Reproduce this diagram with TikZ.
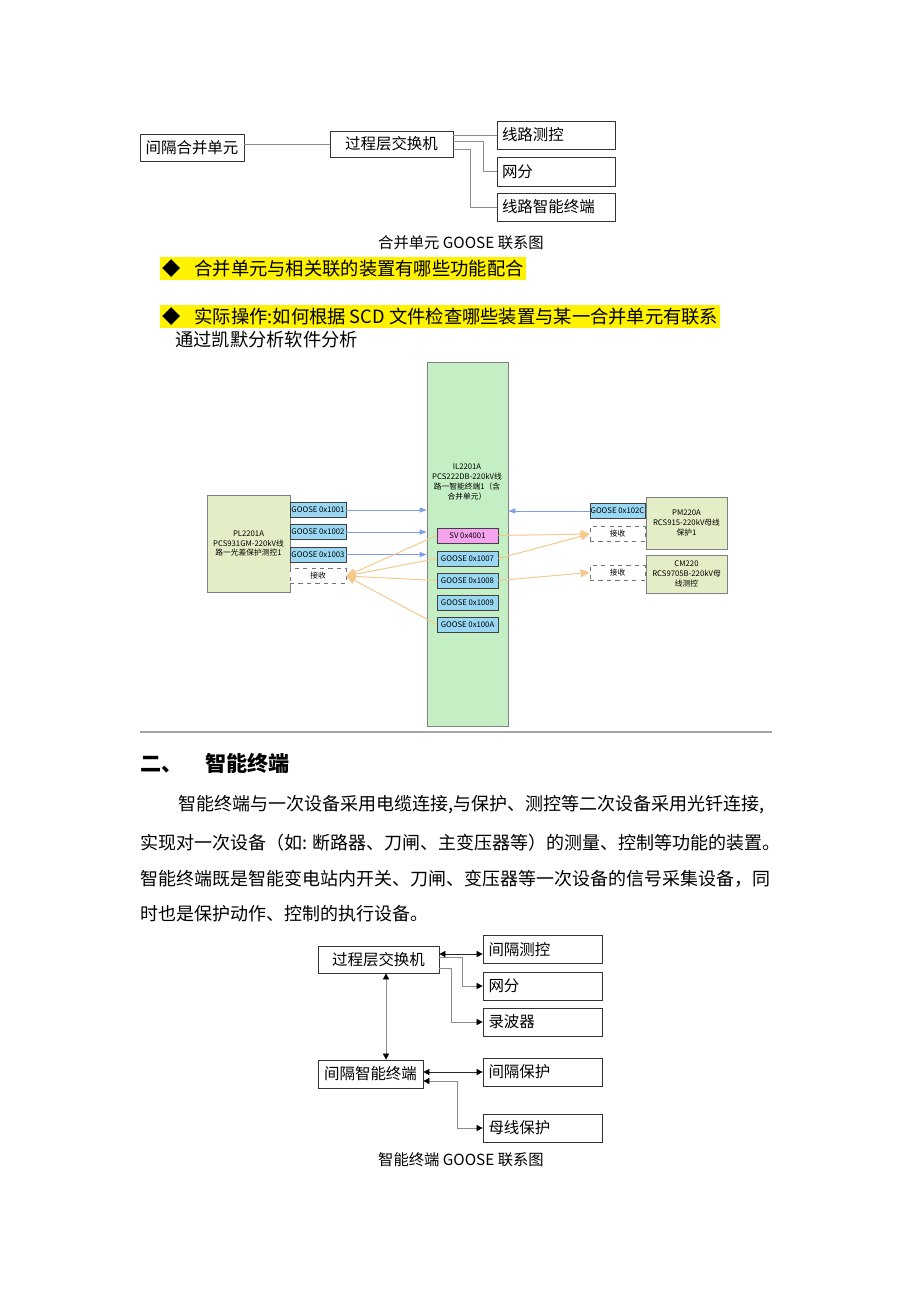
\documentclass[tikz,border=0pt]{standalone}
\usepackage{fontspec}
\setmainfont{Noto Sans CJK SC}
\usetikzlibrary{arrows.meta}
\newdimen\px \px=0.025cm
\newcommand\lft[1]{\makebox[108\px][l]{#1}}
\definecolor{ilgreen}{HTML}{C4EFC4}
\definecolor{devgreen}{HTML}{E4EEC6}
\definecolor{goose}{HTML}{9AD7F3}
\definecolor{svpink}{HTML}{F5A3EE}
\definecolor{flowblue}{HTML}{7E9FE8}
\definecolor{floworange}{HTML}{F5C88C}

\begin{document}
\begin{tikzpicture}[x=0.025cm,y=-0.025cm,
  box/.style={draw=black!80,line width=0.5pt,minimum height=27\px,inner sep=0pt,
    font=\fontsize{11}{13}\selectfont},
  link/.style={draw=black!45,line width=0.5pt},
  dlink/.style={draw=black!85,line width=0.5pt},
  tip/.style={-{Triangle[length=4.3pt,width=4.3pt,color=black]}},
  tips/.style={{Triangle[length=4.3pt,width=4.3pt,color=black]}-{Triangle[length=4.3pt,width=4.3pt,color=black]}},
  figcap/.style={font=\fontsize{10.9}{12}\selectfont},
  hl/.style={fill=yellow,anchor=west,inner xsep=2\px,inner ysep=0pt,minimum height=23\px,
    font=\fontsize{13}{15}\selectfont},
  txt/.style={anchor=west,inner sep=0pt,font=\fontsize{12.8}{15}\selectfont},
  dev/.style={draw=black!50,fill=devgreen,line width=0.5pt,align=center,inner sep=0pt,
    font=\fontsize{5.5}{7}\selectfont},
  tag/.style={draw=black!75,fill=goose,line width=0.5pt,minimum width=56\px,minimum height=15\px,
    inner sep=0pt,font=\fontsize{5.5}{7}\selectfont},
  rcv/.style={tag,fill=white,draw=black!55,dashed},
  goo/.style={draw=flowblue,line width=0.7pt,-{Triangle[length=5pt,width=3.6pt]}},
  sub/.style={draw=floworange,line width=0.7pt,-{Triangle[length=6.4pt,width=5.7pt]}}
]
\fill[white] (0,0) rectangle (920,1302);
\useasboundingbox (0,0) rectangle (920,1302);

% merging unit goose
\node[box,minimum width=104\px] (mu) at (192,147.5) {间隔合并单元};
\node[box,minimum width=123\px,minimum height=26\px] (sw) at (391.5,144) {过程层交换机};
\node[box,minimum width=118\px,minimum height=28\px] (lc) at (556,135) {\lft{线路测控}};
\node[box,minimum width=118\px,minimum height=29\px] (nf) at (556,171.5) {\lft{网分}};
\node[box,minimum width=118\px,minimum height=28\px] (lt) at (556,207) {\lft{线路智能终端}};
\draw[link] (sw.west) -- (sw.west -| mu.east);
\draw[link] (sw.east |- lc.west) -- (lc.west);
\draw[link] ([yshift=2.5\px]sw.east) -- ++(30,0) |- (nf.west);
\draw[link] ([yshift=-5\px]sw.east) -- ++(17,0) |- (lt.west);
\node[figcap] (cap1) at (461,243) {合并单元 GOOSE 联系图};

\node[hl] (q1) at (160,268.5) {◆\hspace{14\px}合并单元与相关联的装置有哪些功能配合};
\node[hl] (q2) at (160,316.5) {◆\hspace{14\px}实际操作:如何根据 SCD 文件检查哪些装置与某一合并单元有联系};
\node[txt,font=\fontsize{13}{15}\selectfont] (t0) at (175,340) {通过凯默分析软件分析};

% kemai screenshot
\node[dev,fill=ilgreen,minimum width=81\px,minimum height=364\px] (il) at (467.5,544) {};
\node[align=center,inner sep=0pt,font=\fontsize{5.5}{7}\selectfont] (ilt) at (467,482)
  {IL2201A\\PCS222DB-220kV线\\路一智能终端1（含\\合并单元）};
\node[dev,minimum width=83\px,minimum height=97\px] (pl) at (248.5,543.5)
  {PL2201A\\PCS931GM-220kV线\\路一光差保护测控1};
\node[dev,minimum width=81\px,minimum height=52\px] (pm) at (686.5,523)
  {PM220A\\RCS915-220kV母线\\保护1};
\node[dev,minimum width=81\px,minimum height=38\px] (cm) at (686.5,574)
  {CM220\\RCS9705B-220kV母\\线测控};

\node[tag] (g1) at (318,510) {GOOSE 0x1001};
\node[tag] (g2) at (318,532) {GOOSE 0x1002};
\node[tag] (g3) at (318,554.5) {GOOSE 0x1003};
\node[rcv] (rx) at (318,576) {接收};
\node[tag,minimum width=55\px] (gc) at (617.5,511) {GOOSE 0x102C};
\node[rcv,minimum width=55\px] (rx2) at (617.5,534) {接收};
\node[rcv,minimum width=55\px] (rx3) at (617.5,572.5) {接收};

\node[tag,fill=svpink,minimum width=61\px] (sv) at (467.5,535.5) {SV 0x4001};
\node[tag,minimum width=61\px] (g7) at (467.5,558.5) {GOOSE 0x1007};
\node[tag,minimum width=61\px] (g8) at (467.5,580.5) {GOOSE 0x1008};
\node[tag,minimum width=61\px] (g9) at (467.5,602.5) {GOOSE 0x1009};
\node[tag,minimum width=61\px] (ga) at (467.5,624.5) {GOOSE 0x100A};

\draw[goo] (g1.east) -- (g1.east -| il.west);
\draw[goo] (g2.east) -- (g2.east -| il.west);
\draw[goo] (g3.east) -- (g3.east -| il.west);
\draw[goo] (gc.west) -- (gc.west -| il.east);
\draw[sub] (sv.west) -- (rx.east);
\draw[sub] (g7.west) -- (rx.east);
\draw[sub] (g8.west) -- (rx.east);
\draw[sub] (ga.west) -- (rx.east);
\draw[sub] (sv.east) -- (rx2.west);
\draw[sub] (g7.east) -- (rx2.west);
\draw[sub] (g8.east) -- (rx3.west);

\draw[black!35,line width=0.8pt] (140,732) -- (772,732);

% smart terminal
\node[anchor=west,inner sep=0pt,font=\bfseries\fontsize{15}{17}\selectfont] (h2) at (140,763)
  {二、\hspace{23\px}智能终端};
\node[txt] (p1) at (178,805) {智能终端与一次设备采用电缆连接,与保护、测控等二次设备采用光钎连接,};
\node[txt] (p2) at (140,843) {实现对一次设备（如: 断路器、刀闸、主变压器等）的测量、控制等功能的装置。};
\node[txt] (p3) at (140,879) {智能终端既是智能变电站内开关、刀闸、变压器等一次设备的信号采集设备，同};
\node[txt] (p4) at (140,914) {时也是保护动作、控制的执行设备。};

\node[box,minimum width=121\px] (sw2) at (378.5,959.5) {过程层交换机};
\node[box,minimum width=119\px,minimum height=28\px] (jc) at (542.5,949.5) {\lft{间隔测控}};
\node[box,minimum width=119\px,minimum height=28\px] (nf2) at (542.5,986) {\lft{网分}};
\node[box,minimum width=119\px,minimum height=28\px] (lb) at (542.5,1022) {\lft{录波器}};
\node[box,minimum width=105\px,minimum height=28\px] (zd) at (370.5,1074) {间隔智能终端};
\node[box,minimum width=119\px,minimum height=28\px] (bh) at (542.5,1072) {\lft{间隔保护}};
\node[box,minimum width=119\px,minimum height=28\px] (mx) at (542.5,1128) {\lft{母线保护}};

\coordinate (j1) at ([yshift=-4.5\px]jc.west);
\draw[dlink,tips] (j1 -| sw2.east) -- (j1);
\draw[link,tip] ([yshift=2.5\px]sw2.east) -- ++(23,0) |- (nf2.west);
\draw[link,tip] ([yshift=-8.5\px]sw2.east) -- ++(12,0) |- (lb.west);
\coordinate (v1) at ([xshift=7.5\px]sw2.south);
\draw[link,tips] (v1) -- (v1 |- zd.north);
\draw[dlink,tips] (bh.west -| zd.east) -- (bh.west);
\draw[link,tips] ([yshift=-7\px]zd.east) -- ++(34,0) |- (mx.west);
\node[figcap] (cap2) at (461,1160) {智能终端 GOOSE 联系图};
\end{tikzpicture}
\end{document}
